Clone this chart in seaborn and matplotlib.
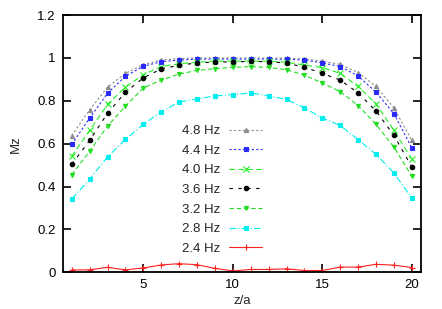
import numpy as np
import pandas as pd
import matplotlib
matplotlib.use("Agg")
import matplotlib.pyplot as plt
from matplotlib.ticker import FormatStrFormatter
import seaborn as sns

z = list(range(1, 21))

mz_48 = [0.638, 0.758, 0.864, 0.928, 0.969, 0.991, 0.997, 1.0, 1.0, 1.0,
         1.0, 1.0, 0.999, 0.996, 0.985, 0.97, 0.932, 0.867, 0.767, 0.615]
mz_44 = [0.597, 0.719, 0.835, 0.915, 0.961, 0.983, 0.99, 0.995, 0.995, 0.995,
         0.995, 0.995, 0.994, 0.99, 0.977, 0.96, 0.916, 0.84, 0.74, 0.58]
mz_40 = [0.541, 0.662, 0.783, 0.864, 0.922, 0.96, 0.973, 0.98, 0.985, 0.985,
         0.985, 0.985, 0.98, 0.967, 0.955, 0.928, 0.867, 0.786, 0.662, 0.527]
mz_36 = [0.504, 0.615, 0.742, 0.84, 0.907, 0.949, 0.966, 0.977, 0.981, 0.982,
         0.984, 0.983, 0.976, 0.957, 0.928, 0.897, 0.837, 0.752, 0.639, 0.491]
mz_32 = [0.455, 0.565, 0.682, 0.775, 0.86, 0.897, 0.925, 0.942, 0.95, 0.956,
         0.96, 0.956, 0.945, 0.92, 0.883, 0.843, 0.778, 0.69, 0.584, 0.448]
mz_28 = [0.342, 0.434, 0.538, 0.62, 0.69, 0.75, 0.794, 0.809, 0.823, 0.829,
         0.837, 0.823, 0.807, 0.767, 0.72, 0.685, 0.619, 0.55, 0.463, 0.346]
mz_24 = [0.011, 0.011, 0.023, 0.011, 0.02, 0.034, 0.04, 0.035, 0.018, 0.006,
         0.013, 0.013, 0.016, 0.008, 0.008, 0.024, 0.024, 0.037, 0.033, 0.022]

labels = ["4.8 Hz", "4.4 Hz", "4.0 Hz", "3.6 Hz", "3.2 Hz", "2.8 Hz", "2.4 Hz"]
series = [mz_48, mz_44, mz_40, mz_36, mz_32, mz_28, mz_24]

styles = {
    "4.8 Hz": dict(color="#8c8c8c", marker="^", dashes=(2, 2), ms=3),
    "4.4 Hz": dict(color="#2a2aff", marker="s", dashes=(2, 2), ms=3),
    "4.0 Hz": dict(color="#22ee22", marker="x", dashes=(5, 3), ms=4),
    "3.6 Hz": dict(color="black", marker="o", dashes=(3, 5), ms=3.2),
    "3.2 Hz": dict(color="#22dd22", marker="v", dashes=(4, 2.5), ms=3),
    "2.8 Hz": dict(color="#00eeee", marker="s", dashes=(6, 2, 1, 2), ms=3),
    "2.4 Hz": dict(color="#ff2020", marker="+", dashes=None, ms=4.5),
}

df = pd.DataFrame({"z": z * len(labels),
                   "mz": [v for s in series for v in s],
                   "freq": [lab for lab in labels for _ in z]})

sns.set_style("ticks")
plt.rcParams["font.family"] = ["Liberation Sans", "DejaVu Sans"]

fig = plt.figure(figsize=(4.42, 3.09), dpi=100)
ax = fig.add_axes([0.142, 0.119, 0.81, 0.832])

for lab in labels:
    st = styles[lab]
    sub = df[df["freq"] == lab]
    sns.lineplot(data=sub, x="z", y="mz", ax=ax, color=st["color"],
                 marker=st["marker"], markersize=st["ms"], linewidth=0.8,
                 markeredgewidth=0.8, markeredgecolor=st["color"], label=lab)
    line = ax.get_lines()[-1]
    if st["dashes"] is not None:
        line.set_dashes(st["dashes"])

ax.set_xlim(0.5, 20.5)
ax.set_ylim(0, 1.2)
ax.set_xticks([5, 10, 15, 20])
ax.set_yticks([0, 0.2, 0.4, 0.6, 0.8, 1.0, 1.2])
ax.yaxis.set_major_formatter(FormatStrFormatter("%g"))
ax.tick_params(direction="in", length=6, width=1.2, top=True, right=True,
               labelsize=9.5, colors="black", pad=5)
for sp in ax.spines.values():
    sp.set_linewidth(1.3)
    sp.set_color("black")
    sp.set_visible(True)

ax.set_xlabel("z/a", fontsize=9.5, labelpad=3)
ax.set_ylabel("Mz", fontsize=9.5, labelpad=11)

leg = ax.legend(loc="upper right", bbox_to_anchor=(262 / 442, 1 - 125 / 309),
                bbox_transform=fig.transFigure, frameon=False, markerfirst=False,
                fontsize=9.5, handlelength=2.5, handletextpad=0.7,
                labelspacing=0.56, borderpad=0, borderaxespad=0)

fig.savefig("out.png", dpi=100)
